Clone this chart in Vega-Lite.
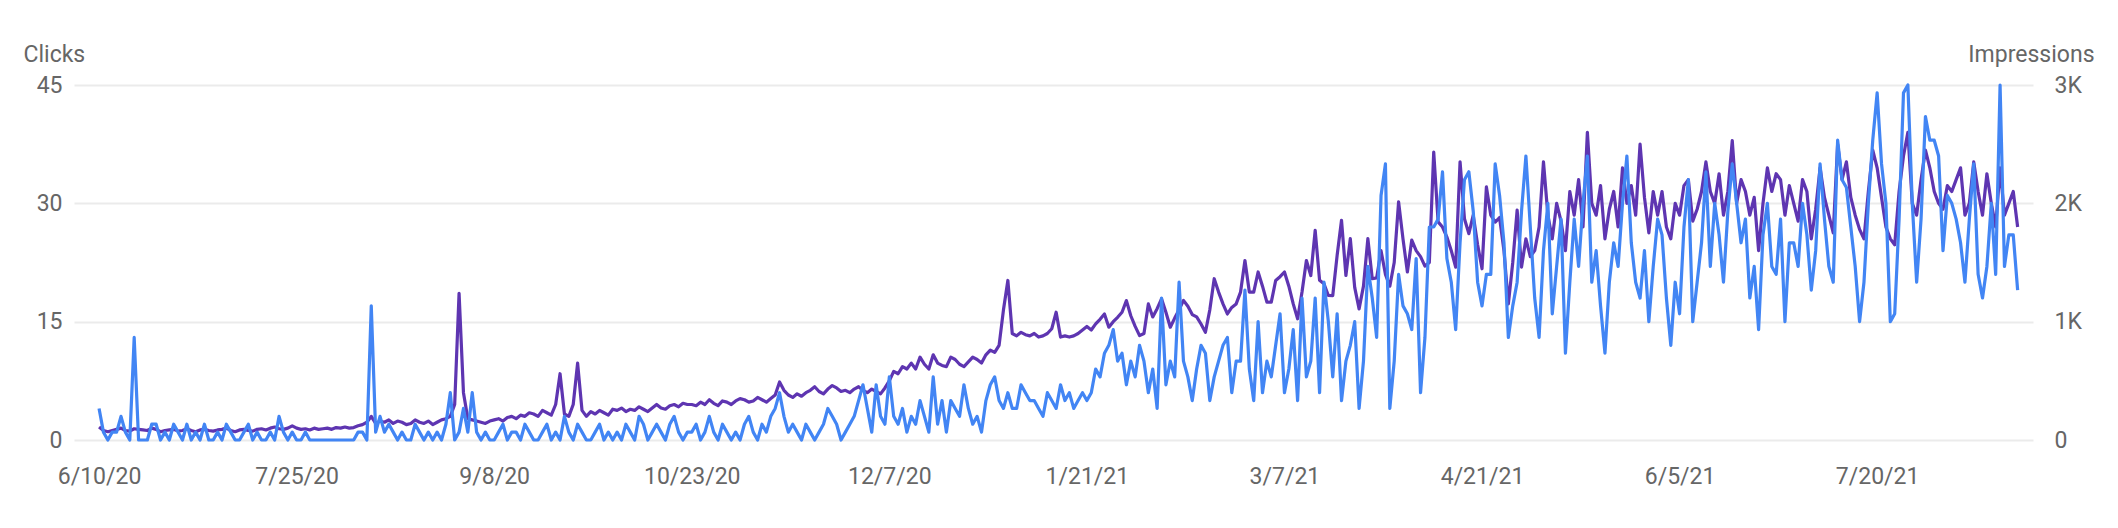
{
 "$schema": "https://vega.github.io/schema/vega-lite/v6.json",
 "width": 1959, "height": 355,
 "autosize": {"type": "none"},
 "padding": {"left": 74, "top": 85, "right": 85, "bottom": 88},
 "background": "white",
 "config": {"view": {"stroke": null}, "font": "Roboto"},
 "data": {"values": [
{"date":"2020-06-10","clicks":4,"impressions":110},{"date":"2020-06-11","clicks":1,"impressions":80},{"date":"2020-06-12","clicks":0,"impressions":70},{"date":"2020-06-13","clicks":1,"impressions":80},{"date":"2020-06-14","clicks":1,"impressions":90},{"date":"2020-06-15","clicks":3,"impressions":100},{"date":"2020-06-16","clicks":1,"impressions":80},{"date":"2020-06-17","clicks":0,"impressions":75},{"date":"2020-06-18","clicks":13,"impressions":95},{"date":"2020-06-19","clicks":0,"impressions":90},{"date":"2020-06-20","clicks":0,"impressions":85},{"date":"2020-06-21","clicks":0,"impressions":80},{"date":"2020-06-22","clicks":2,"impressions":100},{"date":"2020-06-23","clicks":2,"impressions":90},{"date":"2020-06-24","clicks":0,"impressions":70},{"date":"2020-06-25","clicks":1,"impressions":80},{"date":"2020-06-26","clicks":0,"impressions":85},{"date":"2020-06-27","clicks":2,"impressions":90},{"date":"2020-06-28","clicks":1,"impressions":75},{"date":"2020-06-29","clicks":0,"impressions":80},{"date":"2020-06-30","clicks":2,"impressions":95},
{"date":"2020-07-01","clicks":0,"impressions":80},{"date":"2020-07-02","clicks":1,"impressions":70},{"date":"2020-07-03","clicks":0,"impressions":85},{"date":"2020-07-04","clicks":2,"impressions":90},{"date":"2020-07-05","clicks":0,"impressions":80},{"date":"2020-07-06","clicks":0,"impressions":75},{"date":"2020-07-07","clicks":1,"impressions":85},{"date":"2020-07-08","clicks":0,"impressions":90},{"date":"2020-07-09","clicks":2,"impressions":100},{"date":"2020-07-10","clicks":1,"impressions":80},{"date":"2020-07-11","clicks":0,"impressions":70},{"date":"2020-07-12","clicks":0,"impressions":85},{"date":"2020-07-13","clicks":1,"impressions":90},{"date":"2020-07-14","clicks":2,"impressions":80},{"date":"2020-07-15","clicks":0,"impressions":75},{"date":"2020-07-16","clicks":1,"impressions":90},{"date":"2020-07-17","clicks":0,"impressions":95},{"date":"2020-07-18","clicks":0,"impressions":85},{"date":"2020-07-19","clicks":1,"impressions":100},{"date":"2020-07-20","clicks":0,"impressions":110},{"date":"2020-07-21","clicks":3,"impressions":95},{"date":"2020-07-22","clicks":1,"impressions":90},{"date":"2020-07-23","clicks":0,"impressions":100},{"date":"2020-07-24","clicks":1,"impressions":120},{"date":"2020-07-25","clicks":0,"impressions":100},{"date":"2020-07-26","clicks":0,"impressions":90},{"date":"2020-07-27","clicks":1,"impressions":95},{"date":"2020-07-28","clicks":0,"impressions":85},{"date":"2020-07-29","clicks":0,"impressions":100},{"date":"2020-07-30","clicks":0,"impressions":90},{"date":"2020-07-31","clicks":0,"impressions":95},
{"date":"2020-08-01","clicks":0,"impressions":100},{"date":"2020-08-02","clicks":0,"impressions":90},{"date":"2020-08-03","clicks":0,"impressions":105},{"date":"2020-08-04","clicks":0,"impressions":100},{"date":"2020-08-05","clicks":0,"impressions":110},{"date":"2020-08-06","clicks":0,"impressions":100},{"date":"2020-08-07","clicks":0,"impressions":105},{"date":"2020-08-08","clicks":1,"impressions":120},{"date":"2020-08-09","clicks":1,"impressions":130},{"date":"2020-08-10","clicks":0,"impressions":150},{"date":"2020-08-11","clicks":17,"impressions":200},{"date":"2020-08-12","clicks":1,"impressions":140},{"date":"2020-08-13","clicks":3,"impressions":160},{"date":"2020-08-14","clicks":1,"impressions":150},{"date":"2020-08-15","clicks":2,"impressions":170},{"date":"2020-08-16","clicks":1,"impressions":140},{"date":"2020-08-17","clicks":0,"impressions":160},{"date":"2020-08-18","clicks":1,"impressions":150},{"date":"2020-08-19","clicks":0,"impressions":130},{"date":"2020-08-20","clicks":0,"impressions":140},{"date":"2020-08-21","clicks":2,"impressions":170},{"date":"2020-08-22","clicks":1,"impressions":150},{"date":"2020-08-23","clicks":0,"impressions":140},{"date":"2020-08-24","clicks":1,"impressions":160},{"date":"2020-08-25","clicks":0,"impressions":130},{"date":"2020-08-26","clicks":1,"impressions":150},{"date":"2020-08-27","clicks":0,"impressions":170},{"date":"2020-08-28","clicks":2,"impressions":180},{"date":"2020-08-29","clicks":6,"impressions":200},{"date":"2020-08-30","clicks":0,"impressions":300},{"date":"2020-08-31","clicks":1,"impressions":1240},
{"date":"2020-09-01","clicks":4,"impressions":400},{"date":"2020-09-02","clicks":1,"impressions":180},{"date":"2020-09-03","clicks":6,"impressions":170},{"date":"2020-09-04","clicks":1,"impressions":160},{"date":"2020-09-05","clicks":0,"impressions":150},{"date":"2020-09-06","clicks":1,"impressions":140},{"date":"2020-09-07","clicks":0,"impressions":160},{"date":"2020-09-08","clicks":0,"impressions":170},{"date":"2020-09-09","clicks":1,"impressions":180},{"date":"2020-09-10","clicks":2,"impressions":160},{"date":"2020-09-11","clicks":0,"impressions":190},{"date":"2020-09-12","clicks":1,"impressions":200},{"date":"2020-09-13","clicks":1,"impressions":180},{"date":"2020-09-14","clicks":0,"impressions":210},{"date":"2020-09-15","clicks":2,"impressions":200},{"date":"2020-09-16","clicks":1,"impressions":230},{"date":"2020-09-17","clicks":0,"impressions":220},{"date":"2020-09-18","clicks":0,"impressions":200},{"date":"2020-09-19","clicks":1,"impressions":250},{"date":"2020-09-20","clicks":2,"impressions":230},{"date":"2020-09-21","clicks":0,"impressions":210},{"date":"2020-09-22","clicks":1,"impressions":300},{"date":"2020-09-23","clicks":0,"impressions":560},{"date":"2020-09-24","clicks":3,"impressions":220},{"date":"2020-09-25","clicks":1,"impressions":200},{"date":"2020-09-26","clicks":0,"impressions":300},{"date":"2020-09-27","clicks":2,"impressions":650},{"date":"2020-09-28","clicks":1,"impressions":250},{"date":"2020-09-29","clicks":0,"impressions":200},{"date":"2020-09-30","clicks":0,"impressions":240},
{"date":"2020-10-01","clicks":1,"impressions":220},{"date":"2020-10-02","clicks":2,"impressions":250},{"date":"2020-10-03","clicks":0,"impressions":230},{"date":"2020-10-04","clicks":1,"impressions":210},{"date":"2020-10-05","clicks":0,"impressions":260},{"date":"2020-10-06","clicks":1,"impressions":250},{"date":"2020-10-07","clicks":0,"impressions":270},{"date":"2020-10-08","clicks":2,"impressions":240},{"date":"2020-10-09","clicks":1,"impressions":260},{"date":"2020-10-10","clicks":0,"impressions":250},{"date":"2020-10-11","clicks":3,"impressions":280},{"date":"2020-10-12","clicks":2,"impressions":260},{"date":"2020-10-13","clicks":0,"impressions":240},{"date":"2020-10-14","clicks":1,"impressions":270},{"date":"2020-10-15","clicks":2,"impressions":300},{"date":"2020-10-16","clicks":1,"impressions":270},{"date":"2020-10-17","clicks":0,"impressions":260},{"date":"2020-10-18","clicks":2,"impressions":290},{"date":"2020-10-19","clicks":3,"impressions":300},{"date":"2020-10-20","clicks":1,"impressions":280},{"date":"2020-10-21","clicks":0,"impressions":310},{"date":"2020-10-22","clicks":1,"impressions":300},{"date":"2020-10-23","clicks":1,"impressions":300},{"date":"2020-10-24","clicks":2,"impressions":290},{"date":"2020-10-25","clicks":0,"impressions":320},{"date":"2020-10-26","clicks":1,"impressions":300},{"date":"2020-10-27","clicks":3,"impressions":340},{"date":"2020-10-28","clicks":1,"impressions":310},{"date":"2020-10-29","clicks":0,"impressions":290},{"date":"2020-10-30","clicks":2,"impressions":330},{"date":"2020-10-31","clicks":1,"impressions":320},
{"date":"2020-11-01","clicks":0,"impressions":300},{"date":"2020-11-02","clicks":1,"impressions":330},{"date":"2020-11-03","clicks":0,"impressions":350},{"date":"2020-11-04","clicks":2,"impressions":340},{"date":"2020-11-05","clicks":3,"impressions":320},{"date":"2020-11-06","clicks":1,"impressions":330},{"date":"2020-11-07","clicks":0,"impressions":360},{"date":"2020-11-08","clicks":2,"impressions":340},{"date":"2020-11-09","clicks":1,"impressions":320},{"date":"2020-11-10","clicks":3,"impressions":350},{"date":"2020-11-11","clicks":4,"impressions":380},{"date":"2020-11-12","clicks":6,"impressions":490},{"date":"2020-11-13","clicks":3,"impressions":420},{"date":"2020-11-14","clicks":1,"impressions":380},{"date":"2020-11-15","clicks":2,"impressions":360},{"date":"2020-11-16","clicks":1,"impressions":390},{"date":"2020-11-17","clicks":0,"impressions":370},{"date":"2020-11-18","clicks":2,"impressions":400},{"date":"2020-11-19","clicks":1,"impressions":420},{"date":"2020-11-20","clicks":0,"impressions":450},{"date":"2020-11-21","clicks":1,"impressions":410},{"date":"2020-11-22","clicks":2,"impressions":390},{"date":"2020-11-23","clicks":4,"impressions":430},{"date":"2020-11-24","clicks":3,"impressions":460},{"date":"2020-11-25","clicks":2,"impressions":440},{"date":"2020-11-26","clicks":0,"impressions":410},{"date":"2020-11-27","clicks":1,"impressions":420},{"date":"2020-11-28","clicks":2,"impressions":400},{"date":"2020-11-29","clicks":3,"impressions":430},{"date":"2020-11-30","clicks":5,"impressions":450},
{"date":"2020-12-01","clicks":7,"impressions":420},{"date":"2020-12-02","clicks":4,"impressions":400},{"date":"2020-12-03","clicks":1,"impressions":430},{"date":"2020-12-04","clicks":7,"impressions":410},{"date":"2020-12-05","clicks":3,"impressions":390},{"date":"2020-12-06","clicks":2,"impressions":440},{"date":"2020-12-07","clicks":8,"impressions":500},{"date":"2020-12-08","clicks":3,"impressions":580},{"date":"2020-12-09","clicks":2,"impressions":560},{"date":"2020-12-10","clicks":4,"impressions":620},{"date":"2020-12-11","clicks":1,"impressions":600},{"date":"2020-12-12","clicks":3,"impressions":650},{"date":"2020-12-13","clicks":2,"impressions":600},{"date":"2020-12-14","clicks":5,"impressions":700},{"date":"2020-12-15","clicks":3,"impressions":640},{"date":"2020-12-16","clicks":1,"impressions":600},{"date":"2020-12-17","clicks":8,"impressions":720},{"date":"2020-12-18","clicks":2,"impressions":650},{"date":"2020-12-19","clicks":5,"impressions":630},{"date":"2020-12-20","clicks":1,"impressions":620},{"date":"2020-12-21","clicks":5,"impressions":700},{"date":"2020-12-22","clicks":4,"impressions":680},{"date":"2020-12-23","clicks":3,"impressions":640},{"date":"2020-12-24","clicks":7,"impressions":620},{"date":"2020-12-25","clicks":4,"impressions":660},{"date":"2020-12-26","clicks":2,"impressions":700},{"date":"2020-12-27","clicks":3,"impressions":680},{"date":"2020-12-28","clicks":1,"impressions":650},{"date":"2020-12-29","clicks":5,"impressions":720},{"date":"2020-12-30","clicks":7,"impressions":760},{"date":"2020-12-31","clicks":8,"impressions":740},
{"date":"2021-01-01","clicks":5,"impressions":800},{"date":"2021-01-02","clicks":4,"impressions":1100},{"date":"2021-01-03","clicks":6,"impressions":1348},{"date":"2021-01-04","clicks":4,"impressions":900},{"date":"2021-01-05","clicks":4,"impressions":880},{"date":"2021-01-06","clicks":7,"impressions":910},{"date":"2021-01-07","clicks":6,"impressions":890},{"date":"2021-01-08","clicks":5,"impressions":880},{"date":"2021-01-09","clicks":5,"impressions":900},{"date":"2021-01-10","clicks":4,"impressions":870},{"date":"2021-01-11","clicks":3,"impressions":880},{"date":"2021-01-12","clicks":6,"impressions":900},{"date":"2021-01-13","clicks":5,"impressions":940},{"date":"2021-01-14","clicks":4,"impressions":1080},{"date":"2021-01-15","clicks":7,"impressions":870},{"date":"2021-01-16","clicks":5,"impressions":880},{"date":"2021-01-17","clicks":6,"impressions":870},{"date":"2021-01-18","clicks":4,"impressions":880},{"date":"2021-01-19","clicks":5,"impressions":900},{"date":"2021-01-20","clicks":6,"impressions":930},{"date":"2021-01-21","clicks":5,"impressions":960},{"date":"2021-01-22","clicks":6,"impressions":930},{"date":"2021-01-23","clicks":9,"impressions":981},{"date":"2021-01-24","clicks":8,"impressions":1020},{"date":"2021-01-25","clicks":11,"impressions":1065},{"date":"2021-01-26","clicks":12,"impressions":953},{"date":"2021-01-27","clicks":14,"impressions":1000},{"date":"2021-01-28","clicks":10,"impressions":1037},{"date":"2021-01-29","clicks":11,"impressions":1080},{"date":"2021-01-30","clicks":7,"impressions":1178},{"date":"2021-01-31","clicks":10,"impressions":1050},
{"date":"2021-02-01","clicks":8,"impressions":960},{"date":"2021-02-02","clicks":12,"impressions":882},{"date":"2021-02-03","clicks":10,"impressions":900},{"date":"2021-02-04","clicks":6,"impressions":1150},{"date":"2021-02-05","clicks":9,"impressions":1040},{"date":"2021-02-06","clicks":4,"impressions":1110},{"date":"2021-02-07","clicks":18,"impressions":1193},{"date":"2021-02-08","clicks":7,"impressions":1080},{"date":"2021-02-09","clicks":10,"impressions":953},{"date":"2021-02-10","clicks":8,"impressions":1030},{"date":"2021-02-11","clicks":20,"impressions":1100},{"date":"2021-02-12","clicks":10,"impressions":1180},{"date":"2021-02-13","clicks":8,"impressions":1130},{"date":"2021-02-14","clicks":5,"impressions":1060},{"date":"2021-02-15","clicks":9,"impressions":1040},{"date":"2021-02-16","clicks":12,"impressions":980},{"date":"2021-02-17","clicks":11,"impressions":910},{"date":"2021-02-18","clicks":5,"impressions":1100},{"date":"2021-02-19","clicks":8,"impressions":1363},{"date":"2021-02-20","clicks":10,"impressions":1250},{"date":"2021-02-21","clicks":12,"impressions":1150},{"date":"2021-02-22","clicks":13,"impressions":1065},{"date":"2021-02-23","clicks":6,"impressions":1120},{"date":"2021-02-24","clicks":10,"impressions":1150},{"date":"2021-02-25","clicks":10,"impressions":1250},{"date":"2021-02-26","clicks":19,"impressions":1517},{"date":"2021-02-27","clicks":9,"impressions":1250},{"date":"2021-02-28","clicks":5,"impressions":1250},
{"date":"2021-03-01","clicks":15,"impressions":1420},{"date":"2021-03-02","clicks":6,"impressions":1300},{"date":"2021-03-03","clicks":10,"impressions":1165},{"date":"2021-03-04","clicks":8,"impressions":1165},{"date":"2021-03-05","clicks":12,"impressions":1348},{"date":"2021-03-06","clicks":16,"impressions":1380},{"date":"2021-03-07","clicks":6,"impressions":1420},{"date":"2021-03-08","clicks":9,"impressions":1300},{"date":"2021-03-09","clicks":14,"impressions":1150},{"date":"2021-03-10","clicks":5,"impressions":1024},{"date":"2021-03-11","clicks":18,"impressions":1250},{"date":"2021-03-12","clicks":8,"impressions":1517},{"date":"2021-03-13","clicks":10,"impressions":1390},{"date":"2021-03-14","clicks":18,"impressions":1772},{"date":"2021-03-15","clicks":6,"impressions":1350},{"date":"2021-03-16","clicks":20,"impressions":1320},{"date":"2021-03-17","clicks":15,"impressions":1221},{"date":"2021-03-18","clicks":8,"impressions":1220},{"date":"2021-03-19","clicks":16,"impressions":1560},{"date":"2021-03-20","clicks":5,"impressions":1857},{"date":"2021-03-21","clicks":10,"impressions":1390},{"date":"2021-03-22","clicks":12,"impressions":1702},{"date":"2021-03-23","clicks":15,"impressions":1290},{"date":"2021-03-24","clicks":4,"impressions":1108},{"date":"2021-03-25","clicks":10,"impressions":1300},{"date":"2021-03-26","clicks":22,"impressions":1702},{"date":"2021-03-27","clicks":18,"impressions":1363},{"date":"2021-03-28","clicks":13,"impressions":1370},{"date":"2021-03-29","clicks":31,"impressions":1600},{"date":"2021-03-30","clicks":35,"impressions":1400},{"date":"2021-03-31","clicks":4,"impressions":1300},
{"date":"2021-04-01","clicks":10,"impressions":1500},{"date":"2021-04-02","clicks":21,"impressions":2012},{"date":"2021-04-03","clicks":17,"impressions":1700},{"date":"2021-04-04","clicks":16,"impressions":1420},{"date":"2021-04-05","clicks":14,"impressions":1690},{"date":"2021-04-06","clicks":23,"impressions":1600},{"date":"2021-04-07","clicks":6,"impressions":1550},{"date":"2021-04-08","clicks":13,"impressions":1470},{"date":"2021-04-09","clicks":27,"impressions":1500},{"date":"2021-04-10","clicks":27,"impressions":2434},{"date":"2021-04-11","clicks":28,"impressions":1843},{"date":"2021-04-12","clicks":34,"impressions":1800},{"date":"2021-04-13","clicks":23,"impressions":1715},{"date":"2021-04-14","clicks":20,"impressions":1600},{"date":"2021-04-15","clicks":14,"impressions":1461},{"date":"2021-04-16","clicks":25,"impressions":2351},{"date":"2021-04-17","clicks":33,"impressions":1870},{"date":"2021-04-18","clicks":34,"impressions":1744},{"date":"2021-04-19","clicks":29,"impressions":1900},{"date":"2021-04-20","clicks":20,"impressions":1650},{"date":"2021-04-21","clicks":17,"impressions":1447},{"date":"2021-04-22","clicks":21,"impressions":2139},{"date":"2021-04-23","clicks":21,"impressions":1900},{"date":"2021-04-24","clicks":35,"impressions":1842},{"date":"2021-04-25","clicks":31,"impressions":1880},{"date":"2021-04-26","clicks":25,"impressions":1600},{"date":"2021-04-27","clicks":13,"impressions":1151},{"date":"2021-04-28","clicks":17,"impressions":1500},{"date":"2021-04-29","clicks":20,"impressions":1942},{"date":"2021-04-30","clicks":29,"impressions":1461},
{"date":"2021-05-01","clicks":36,"impressions":1700},{"date":"2021-05-02","clicks":27,"impressions":1550},{"date":"2021-05-03","clicks":18,"impressions":1600},{"date":"2021-05-04","clicks":13,"impressions":1800},{"date":"2021-05-05","clicks":24,"impressions":2351},{"date":"2021-05-06","clicks":30,"impressions":1900},{"date":"2021-05-07","clicks":16,"impressions":1700},{"date":"2021-05-08","clicks":22,"impressions":2000},{"date":"2021-05-09","clicks":28,"impressions":1850},{"date":"2021-05-10","clicks":11,"impressions":1600},{"date":"2021-05-11","clicks":20,"impressions":2100},{"date":"2021-05-12","clicks":28,"impressions":1900},{"date":"2021-05-13","clicks":22,"impressions":2200},{"date":"2021-05-14","clicks":30,"impressions":1800},{"date":"2021-05-15","clicks":36,"impressions":2600},{"date":"2021-05-16","clicks":20,"impressions":2000},{"date":"2021-05-17","clicks":24,"impressions":1900},{"date":"2021-05-18","clicks":17,"impressions":2150},{"date":"2021-05-19","clicks":11,"impressions":1700},{"date":"2021-05-20","clicks":20,"impressions":1950},{"date":"2021-05-21","clicks":25,"impressions":2100},{"date":"2021-05-22","clicks":22,"impressions":1800},{"date":"2021-05-23","clicks":30,"impressions":2300},{"date":"2021-05-24","clicks":36,"impressions":2000},{"date":"2021-05-25","clicks":25,"impressions":2150},{"date":"2021-05-26","clicks":20,"impressions":1900},{"date":"2021-05-27","clicks":18,"impressions":2500},{"date":"2021-05-28","clicks":24,"impressions":2050},{"date":"2021-05-29","clicks":15,"impressions":1750},{"date":"2021-05-30","clicks":22,"impressions":2100},{"date":"2021-05-31","clicks":28,"impressions":1900},
{"date":"2021-06-01","clicks":26,"impressions":2100},{"date":"2021-06-02","clicks":18,"impressions":1800},{"date":"2021-06-03","clicks":12,"impressions":1700},{"date":"2021-06-04","clicks":20,"impressions":2000},{"date":"2021-06-05","clicks":16,"impressions":1900},{"date":"2021-06-06","clicks":27,"impressions":2150},{"date":"2021-06-07","clicks":33,"impressions":2200},{"date":"2021-06-08","clicks":15,"impressions":1850},{"date":"2021-06-09","clicks":20,"impressions":1950},{"date":"2021-06-10","clicks":25,"impressions":2100},{"date":"2021-06-11","clicks":34,"impressions":2350},{"date":"2021-06-12","clicks":22,"impressions":2100},{"date":"2021-06-13","clicks":30,"impressions":2000},{"date":"2021-06-14","clicks":26,"impressions":2250},{"date":"2021-06-15","clicks":20,"impressions":1900},{"date":"2021-06-16","clicks":29,"impressions":2100},{"date":"2021-06-17","clicks":35,"impressions":2530},{"date":"2021-06-18","clicks":30,"impressions":2000},{"date":"2021-06-19","clicks":25,"impressions":2200},{"date":"2021-06-20","clicks":28,"impressions":2100},{"date":"2021-06-21","clicks":18,"impressions":1900},{"date":"2021-06-22","clicks":22,"impressions":2050},{"date":"2021-06-23","clicks":14,"impressions":1600},{"date":"2021-06-24","clicks":26,"impressions":2000},{"date":"2021-06-25","clicks":30,"impressions":2300},{"date":"2021-06-26","clicks":22,"impressions":2100},{"date":"2021-06-27","clicks":21,"impressions":2250},{"date":"2021-06-28","clicks":28,"impressions":2200},{"date":"2021-06-29","clicks":15,"impressions":1900},{"date":"2021-06-30","clicks":25,"impressions":2150},
{"date":"2021-07-01","clicks":25,"impressions":2000},{"date":"2021-07-02","clicks":22,"impressions":1850},{"date":"2021-07-03","clicks":30,"impressions":2200},{"date":"2021-07-04","clicks":26,"impressions":2100},{"date":"2021-07-05","clicks":19,"impressions":1700},{"date":"2021-07-06","clicks":24,"impressions":1950},{"date":"2021-07-07","clicks":35,"impressions":2300},{"date":"2021-07-08","clicks":28,"impressions":2050},{"date":"2021-07-09","clicks":22,"impressions":1900},{"date":"2021-07-10","clicks":20,"impressions":1750},{"date":"2021-07-11","clicks":38,"impressions":2500},{"date":"2021-07-12","clicks":33,"impressions":2200},{"date":"2021-07-13","clicks":32,"impressions":2350},{"date":"2021-07-14","clicks":27,"impressions":2050},{"date":"2021-07-15","clicks":22,"impressions":1900},{"date":"2021-07-16","clicks":15,"impressions":1780},{"date":"2021-07-17","clicks":20,"impressions":1700},{"date":"2021-07-18","clicks":30,"impressions":2100},{"date":"2021-07-19","clicks":38,"impressions":2450},{"date":"2021-07-20","clicks":44,"impressions":2300},{"date":"2021-07-21","clicks":35,"impressions":2050},{"date":"2021-07-22","clicks":30,"impressions":1800},{"date":"2021-07-23","clicks":15,"impressions":1700},{"date":"2021-07-24","clicks":16,"impressions":1650},{"date":"2021-07-25","clicks":28,"impressions":2100},{"date":"2021-07-26","clicks":44,"impressions":2400},{"date":"2021-07-27","clicks":45,"impressions":2600},{"date":"2021-07-28","clicks":30,"impressions":2000},{"date":"2021-07-29","clicks":20,"impressions":1900},{"date":"2021-07-30","clicks":28,"impressions":2200},{"date":"2021-07-31","clicks":41,"impressions":2450},
{"date":"2021-08-01","clicks":38,"impressions":2300},{"date":"2021-08-02","clicks":38,"impressions":2100},{"date":"2021-08-03","clicks":36,"impressions":2000},{"date":"2021-08-04","clicks":24,"impressions":1950},{"date":"2021-08-05","clicks":31,"impressions":2150},{"date":"2021-08-06","clicks":30,"impressions":2100},{"date":"2021-08-07","clicks":28,"impressions":2200},{"date":"2021-08-08","clicks":25,"impressions":2300},{"date":"2021-08-09","clicks":20,"impressions":1900},{"date":"2021-08-10","clicks":28,"impressions":2000},{"date":"2021-08-11","clicks":35,"impressions":2350},{"date":"2021-08-12","clicks":21,"impressions":2100},{"date":"2021-08-13","clicks":18,"impressions":1900},{"date":"2021-08-14","clicks":22,"impressions":2250},{"date":"2021-08-15","clicks":30,"impressions":2000},{"date":"2021-08-16","clicks":21,"impressions":1800},{"date":"2021-08-17","clicks":45,"impressions":2300},{"date":"2021-08-18","clicks":22,"impressions":1900},{"date":"2021-08-19","clicks":26,"impressions":2000},{"date":"2021-08-20","clicks":26,"impressions":2100},{"date":"2021-08-21","clicks":19,"impressions":1800}
 ]},
 "encoding": {
  "x": {"field": "date", "type": "temporal",
   "scale": {"type": "utc", "domain": [{"year":2020,"month":6,"date":4,"hours":7,"utc":true}, {"year":2021,"month":8,"date":24,"hours":12,"utc":true}]},
   "axis": {"title": null, "format": "%-m/%-d/%y", "domain": false, "ticks": false, "grid": false,
    "values": [{"year":2020,"month":6,"date":10,"utc":true},{"year":2020,"month":7,"date":25,"utc":true},{"year":2020,"month":9,"date":8,"utc":true},{"year":2020,"month":10,"date":23,"utc":true},{"year":2020,"month":12,"date":7,"utc":true},{"year":2021,"month":1,"date":21,"utc":true},{"year":2021,"month":3,"date":7,"utc":true},{"year":2021,"month":4,"date":21,"utc":true},{"year":2021,"month":6,"date":5,"utc":true},{"year":2021,"month":7,"date":20,"utc":true}],
    "labelFontSize": 23, "labelColor": "#666666", "labelPadding": 25, "labelFont": "Roboto"}}
 },
 "layer": [
  {"mark": {"type": "line", "color": "#5e35b1", "strokeWidth": 3.2, "strokeJoin": "round"},
   "encoding": {"y": {"field": "impressions", "type": "quantitative", "scale": {"domain": [0, 3000]},
    "axis": {"orient": "right", "values": [0, 1000, 2000, 3000], "labelExpr": "datum.value == 0 ? '0' : (datum.value / 1000) + 'K'",
     "grid": false, "domain": false, "ticks": false, "labelPadding": 21, "labelFontSize": 23, "labelColor": "#666666", "labelFont": "Roboto",
     "title": "Impressions", "titleAngle": 0, "titleAlign": "right", "titleBaseline": "alphabetic", "titleX": 61, "titleY": -24,
     "titleFontSize": 23, "titleFontWeight": "normal", "titleColor": "#666666", "titleFont": "Roboto"}}}
  },
  {"mark": {"type": "line", "color": "#4285f4", "strokeWidth": 3.2, "strokeJoin": "round"},
   "encoding": {"y": {"field": "clicks", "type": "quantitative", "scale": {"domain": [0, 45]},
    "axis": {"orient": "left", "values": [0, 15, 30, 45], "grid": true, "gridColor": "#ebebeb", "gridWidth": 2,
     "domain": false, "ticks": false, "labelPadding": 12, "labelFontSize": 23, "labelColor": "#666666", "labelFont": "Roboto",
     "title": "Clicks", "titleAngle": 0, "titleAlign": "left", "titleBaseline": "alphabetic", "titleX": -51, "titleY": -24,
     "titleFontSize": 23, "titleFontWeight": "normal", "titleColor": "#666666", "titleFont": "Roboto"}}}
  }
 ],
 "resolve": {"scale": {"y": "independent"}}
}
